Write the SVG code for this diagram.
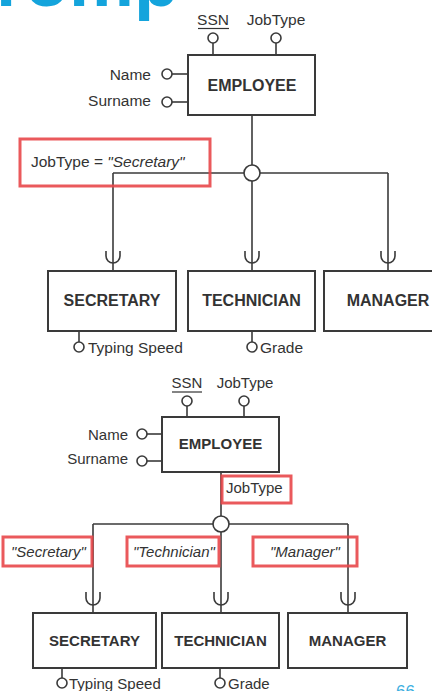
<svg xmlns="http://www.w3.org/2000/svg" width="432" height="691" viewBox="0 0 432 691">
<style>
text{font-family:"Liberation Sans",Arial,sans-serif;fill:#333}
.lbl{font-size:15.5px}
.lbl2{font-size:15px}
.ent{font-size:16px;font-weight:bold;text-anchor:middle}
.ent2{font-size:15px;font-weight:bold;text-anchor:middle}
.box{fill:#fff;stroke:#3a3a3a;stroke-width:2}
.ln{stroke:#3a3a3a;stroke-width:1.6;fill:none}
.att{fill:#fff;stroke:#3a3a3a;stroke-width:1.6}
.red{fill:none;stroke:#e8474a;stroke-width:3;stroke-opacity:0.9}
.it{font-style:italic}
.title{font-size:73px;font-weight:bold;fill:#14a4dc}
</style>
<text class="title" x="-4" y="6">romp</text>

<!-- ===== Top diagram ===== -->
<g id="connectors-top">
  <line class="ln" x1="213" y1="43" x2="213" y2="55"/>
  <line class="ln" x1="276" y1="43" x2="276" y2="55"/>
  <line class="ln" x1="172" y1="74" x2="188" y2="74"/>
  <line class="ln" x1="172" y1="102" x2="188" y2="102"/>
  <line class="ln" x1="252" y1="115" x2="252" y2="271"/>
  <line class="ln" x1="113" y1="173" x2="388" y2="173"/>
  <line class="ln" x1="113" y1="173" x2="113" y2="271"/>
  <line class="ln" x1="388" y1="173" x2="388" y2="271"/>
  <path class="ln" d="M106,251 V256 A7,7 0 0 0 120,256 V251"/>
  <path class="ln" d="M245,251 V256 A7,7 0 0 0 259,256 V251"/>
  <path class="ln" d="M381,251 V256 A7,7 0 0 0 395,256 V251"/>
  <line class="ln" x1="79" y1="331" x2="79" y2="342"/>
  <line class="ln" x1="252" y1="331" x2="252" y2="342"/>
  <circle class="att" cx="252" cy="173" r="8"/>
  <circle class="att" cx="213" cy="38" r="5"/>
  <circle class="att" cx="276" cy="38" r="5"/>
  <circle class="att" cx="167" cy="74" r="5"/>
  <circle class="att" cx="167" cy="102" r="5"/>
  <circle class="att" cx="79" cy="347" r="5"/>
  <circle class="att" cx="252" cy="347" r="5"/>
</g>
<g id="employee-top">
  <rect class="box" x="188" y="55" width="127" height="60"/>
  <text class="ent" x="252" y="91">EMPLOYEE</text>
  <text class="lbl" x="213" y="25" text-anchor="middle">SSN</text>
  <line x1="198" y1="28.5" x2="229" y2="28.5" stroke="#333" stroke-width="1.2"/>
  <text class="lbl" x="276" y="25" text-anchor="middle">JobType</text>
  <text class="lbl" x="151" y="80" text-anchor="end">Name</text>
  <text class="lbl" x="151" y="106" text-anchor="end">Surname</text>
</g>
<g id="cond-top">
  <rect class="red" x="20" y="139" width="190" height="47"/>
  <text class="lbl" x="31" y="167">JobType = <tspan class="it">"Secretary"</tspan></text>
</g>
<g id="secretary-top">
  <rect class="box" x="48" y="271" width="128" height="60"/>
  <text class="ent" x="112" y="306">SECRETARY</text>
  <text class="lbl" x="88" y="353">Typing Speed</text>
</g>
<g id="technician-top">
  <rect class="box" x="188" y="271" width="127" height="60"/>
  <text class="ent" x="251.5" y="306">TECHNICIAN</text>
  <text class="lbl" x="260" y="353">Grade</text>
</g>
<g id="manager-top">
  <rect class="box" x="324" y="271" width="128" height="60"/>
  <text class="ent" x="388" y="306">MANAGER</text>
</g>

<!-- ===== Bottom diagram ===== -->
<g id="connectors-bottom">
  <line class="ln" x1="187" y1="406" x2="187" y2="417"/>
  <line class="ln" x1="244" y1="406" x2="244" y2="417"/>
  <line class="ln" x1="147" y1="434" x2="162" y2="434"/>
  <line class="ln" x1="147" y1="461" x2="162" y2="461"/>
  <line class="ln" x1="221" y1="472" x2="221" y2="613"/>
  <line class="ln" x1="93" y1="524" x2="348" y2="524"/>
  <line class="ln" x1="93" y1="524" x2="93" y2="613"/>
  <line class="ln" x1="348" y1="524" x2="348" y2="613"/>
  <path class="ln" d="M86,592 V598 A7,7 0 0 0 100,598 V592"/>
  <path class="ln" d="M214,592 V598 A7,7 0 0 0 228,598 V592"/>
  <path class="ln" d="M341,592 V598 A7,7 0 0 0 355,598 V592"/>
  <line class="ln" x1="62" y1="668" x2="62" y2="678"/>
  <line class="ln" x1="220" y1="668" x2="220" y2="678"/>
  <circle class="att" cx="221" cy="524" r="8"/>
  <circle class="att" cx="187" cy="401" r="5"/>
  <circle class="att" cx="244" cy="401" r="5"/>
  <circle class="att" cx="142" cy="434" r="5"/>
  <circle class="att" cx="142" cy="461" r="5"/>
  <circle class="att" cx="62" cy="683" r="5"/>
  <circle class="att" cx="220" cy="683" r="5"/>
</g>
<g id="employee-bottom">
  <rect class="box" x="162" y="417" width="117" height="55"/>
  <text class="ent2" x="220.5" y="449">EMPLOYEE</text>
  <text class="lbl2" x="187" y="388" text-anchor="middle">SSN</text>
  <line x1="172" y1="392" x2="202" y2="392" stroke="#333" stroke-width="1.2"/>
  <text class="lbl2" x="245" y="388" text-anchor="middle">JobType</text>
  <text class="lbl2" x="128" y="440" text-anchor="end">Name</text>
  <text class="lbl2" x="128" y="464" text-anchor="end">Surname</text>
</g>
<g id="attr-jobtype-bottom">
  <rect class="red" x="222" y="476" width="69" height="27" fill="#fff"/>
  <text class="lbl2" x="226" y="493">JobType</text>
</g>
<g id="val-secretary">
  <rect class="red" x="3" y="537" width="89" height="29"/>
  <text class="lbl2 it" x="11" y="557">"Secretary"</text>
</g>
<g id="val-technician">
  <rect class="red" x="127" y="537" width="92" height="29"/>
  <text class="lbl2 it" x="133" y="557">"Technician"</text>
</g>
<g id="val-manager">
  <rect class="red" x="253" y="537" width="104" height="29"/>
  <text class="lbl2 it" x="270" y="557">"Manager"</text>
</g>
<g id="secretary-bottom">
  <rect class="box" x="33" y="613" width="123" height="55"/>
  <text class="ent2" x="94.5" y="646">SECRETARY</text>
  <text class="lbl2" x="69" y="689">Typing Speed</text>
</g>
<g id="technician-bottom">
  <rect class="box" x="162" y="613" width="117" height="55"/>
  <text class="ent2" x="220.5" y="646">TECHNICIAN</text>
  <text class="lbl2" x="228" y="689">Grade</text>
</g>
<g id="manager-bottom">
  <rect class="box" x="288" y="613" width="119" height="55"/>
  <text class="ent2" x="347.5" y="646">MANAGER</text>
</g>
<text x="396" y="697" style="font-size:17px;fill:#3aaee0">66</text>
</svg>
